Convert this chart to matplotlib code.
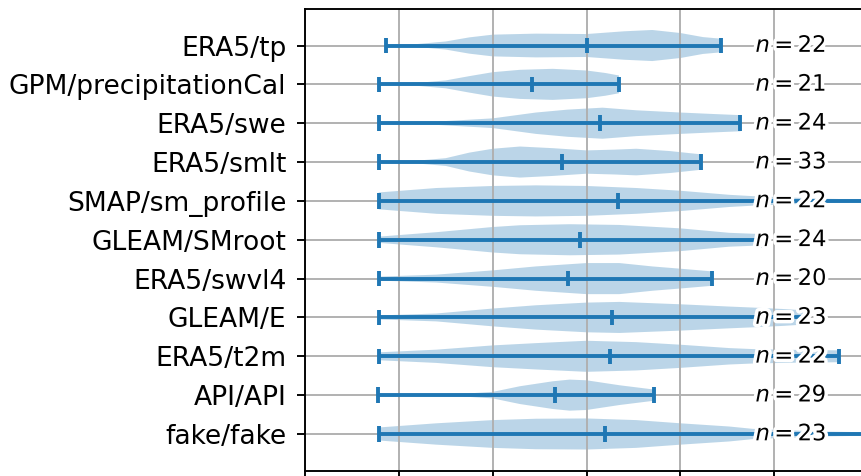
import matplotlib
matplotlib.use('Agg')
import matplotlib.pyplot as plt
import matplotlib.patheffects as pe

# rows, top to bottom
names = ['ERA5/tp', 'GPM/precipitationCal', 'ERA5/swe', 'ERA5/smlt',
         'SMAP/sm_profile', 'GLEAM/SMroot', 'ERA5/swvl4', 'GLEAM/E',
         'ERA5/t2m', 'API/API', 'fake/fake']
counts = [22, 21, 24, 33, 22, 24, 20, 23, 22, 29, 23]
mins = [-0.14, -0.215, -0.215, -0.215, -0.215, -0.215, -0.215, -0.215, -0.215, -0.225, -0.215]
medians = [2.0, 1.415, 2.14, 1.735, 2.335, 1.935, 1.80, 2.27, 2.245, 1.66, 2.20]
maxes = [3.435, 2.345, 3.64, 3.215, 5.5, 3.86, 3.335, 4.35, 4.69, 2.715, 5.5]

# density profile (x position, relative half width)
kde_x = [
    [-0.14, 0.2, 0.5, 0.75, 1.0, 1.46, 2.0, 2.4, 2.7, 3.0, 3.24, 3.435],
    [-0.215, 0.2, 0.5, 0.75, 1.0, 1.29, 1.64, 2.0, 2.2, 2.345],
    [-0.215, 0.4, 1.0, 1.46, 1.8, 2.17, 2.53, 3.0, 3.3, 3.64],
    [-0.215, 0.2, 0.5, 0.75, 1.0, 1.29, 1.64, 2.0, 2.3, 2.53, 2.89, 3.215],
    [-0.215, 0.4, 1.0, 1.46, 2.0, 2.53, 3.0, 3.52, 3.77, 4.5, 4.9, 5.5],
    [-0.215, 0.4, 1.0, 1.29, 1.82, 2.35, 3.0, 3.52, 3.86],
    [-0.215, 0.4, 1.0, 1.46, 2.0, 2.35, 2.7, 3.0, 3.335],
    [-0.215, 0.4, 1.0, 1.46, 2.0, 2.35, 3.0, 3.52, 3.77, 4.1, 4.35],
    [-0.215, 0.4, 1.0, 1.46, 2.0, 2.53, 3.0, 3.52, 3.77, 4.2, 4.69],
    [-0.225, 0.4, 0.7, 1.0, 1.29, 1.64, 1.82, 2.0, 2.35, 2.715],
    [-0.215, 0.4, 1.0, 1.46, 2.0, 2.53, 3.0, 3.52, 3.77, 4.5, 5.0, 5.5],
]
kde_w = [
    [1, 1.5, 4, 8, 10.7, 11.7, 11.3, 14, 15.3, 12.3, 8.3, 6.7],
    [1, 1.5, 4, 8.3, 12.3, 14.7, 15.7, 14, 11.5, 9],
    [1, 1.7, 5, 11, 14, 16, 13.3, 11, 9.7, 8.3],
    [1, 1.5, 4, 9.7, 13.7, 16, 14.3, 12, 12.8, 13.7, 11.3, 8],
    [8.3, 12.7, 14.7, 15.3, 14.7, 12.7, 10, 6, 4.7, 2.2, 1.5, 1.2],
    [3, 7.3, 12.3, 14, 15, 14.3, 11, 6.7, 5.5],
    [2, 4, 8.3, 12.3, 15.7, 15.7, 12.3, 10, 7.3],
    [2, 4, 9, 12.3, 15, 15.7, 13.3, 11, 10, 8.5, 7],
    [4, 6.7, 11, 13.3, 15.7, 14.3, 11.7, 8.3, 7.3, 6.5, 6],
    [1, 1, 1.5, 3.3, 9, 14, 15.7, 15, 10, 5.7],
    [6.7, 11, 14.3, 15.7, 16, 14.3, 11, 7.7, 5.3, 2.5, 1.8, 1.2],
]

s = 1.71
plt.rcParams.update({
    'font.size': 19.1,
    'axes.linewidth': 0.8 * s,
    'grid.linewidth': 0.8 * s,
    'lines.linewidth': 2.8,
    'xtick.major.size': 3.5 * s,
    'ytick.major.size': 3.5 * s,
    'xtick.major.width': 0.8 * s,
    'ytick.major.width': 0.8 * s,
    'xtick.major.pad': 3.5 * s,
    'ytick.major.pad': 7.4,
})

fig = plt.figure(figsize=(8.61, 4.76), dpi=100)
ax = fig.add_axes([305 / 861, 5.5 / 476, 657 / 861, 461.5 / 476])

pos = list(range(len(names), 0, -1))
stats = []
for i in range(len(names)):
    stats.append(dict(coords=kde_x[i], vals=kde_w[i], mean=medians[i],
                      median=medians[i], min=mins[i], max=maxes[i]))

ax.violin(stats, positions=pos, orientation='horizontal', widths=0.8,
          showmedians=True)

# sample size next to each violin
for i in range(len(names)):
    ax.text(3.8, pos[i], f'$n = {counts[i]}$', ha='left', va='center',
            fontsize=16.3,
            path_effects=[pe.withStroke(linewidth=5, foreground='w')])

ax.set_yticks(pos, names)
ax.set_xticks(range(-1, 7))
ax.tick_params(axis='x', labelbottom=False)
ax.set_xlim(-1, 6)
ax.set_ylim(0.06, 11.94)
ax.grid(True)

fig.savefig('out.png', dpi=100)
